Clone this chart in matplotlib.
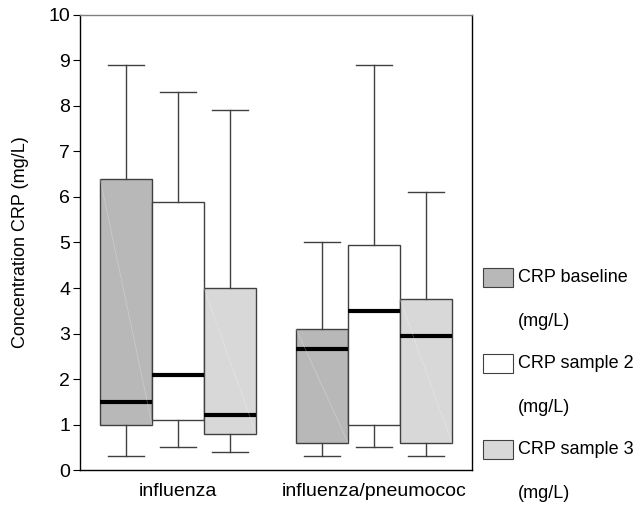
import matplotlib.pyplot as plt
from matplotlib.patches import Rectangle

plt.rcParams['font.family'] = ['Liberation Sans', 'DejaVu Sans']

groups = ['influenza', 'influenza/pneumococ']
series = ['CRP baseline', 'CRP sample 2', 'CRP sample 3']
legend_labels = ['CRP baseline', 'CRP sample 2', 'CRP sample 3']
colors = ['#b8b8b8', '#ffffff', '#d8d8d8']

# per group, per series: whislo, q1, med, q3, whishi
whislo = [[0.3, 0.5, 0.4], [0.3, 0.5, 0.3]]
q1 = [[1.0, 1.1, 0.8], [0.6, 1.0, 0.6]]
med = [[1.5, 2.1, 1.2], [2.65, 3.5, 2.95]]
q3 = [[6.4, 5.9, 4.0], [3.1, 4.95, 3.75]]
whishi = [[8.9, 8.3, 7.9], [5.0, 8.9, 6.1]]

fig = plt.figure(figsize=(6.4, 5.3), dpi=100)
ax = fig.add_axes([0.125, 0.113, 0.6125, 0.859])

w = 0.265
for g in range(len(groups)):
    for s in range(len(series)):
        pos = g + 1 + (s - 1) * w
        st = [dict(whislo=whislo[g][s], q1=q1[g][s], med=med[g][s],
                   q3=q3[g][s], whishi=whishi[g][s], fliers=[])]
        ax.bxp(st, positions=[pos], widths=w, patch_artist=True,
               showfliers=False,
               boxprops=dict(facecolor=colors[s], edgecolor='#404040', linewidth=1),
               medianprops=dict(color='black', linewidth=3),
               whiskerprops=dict(color='#404040', linewidth=1),
               capprops=dict(color='#404040', linewidth=1),
               capwidths=w * 0.7)
        if s != 1:
            ax.plot([pos - w / 2, pos + w / 2], [q3[g][s], q1[g][s]],
                    color='white', linewidth=0.5, alpha=0.3, zorder=3)

ax.set_xlim(0.5, 2.5)
ax.set_ylim(0, 10)
ax.set_yticks(range(0, 11))
ax.set_xticks([1, 2])
ax.set_xticklabels(groups, fontsize=14)
ax.tick_params(axis='x', length=0, pad=9)
ax.tick_params(axis='y', labelsize=14, length=5, pad=2)
ax.set_ylabel('Concentration CRP (mg/L)', fontsize=13, labelpad=14)
for sp in ax.spines.values():
    sp.set_linewidth(1)
ax.spines['top'].set_color('#808080')

# legend drawn manually
ys = [277, 363, 449]
for i, lab in enumerate(legend_labels):
    y = 1 - ys[i] / 530
    fig.add_artist(Rectangle((483 / 640, y - 9.5 / 530), 30 / 640, 19 / 530,
                             transform=fig.transFigure, facecolor=colors[i],
                             edgecolor='#404040', linewidth=0.8))
    fig.text(518 / 640, y, lab, fontsize=13, va='center', ha='left')
    fig.text(518 / 640, y - 45 / 530, '(mg/L)', fontsize=13, va='center', ha='left')

fig.savefig('out.png', dpi=100)
